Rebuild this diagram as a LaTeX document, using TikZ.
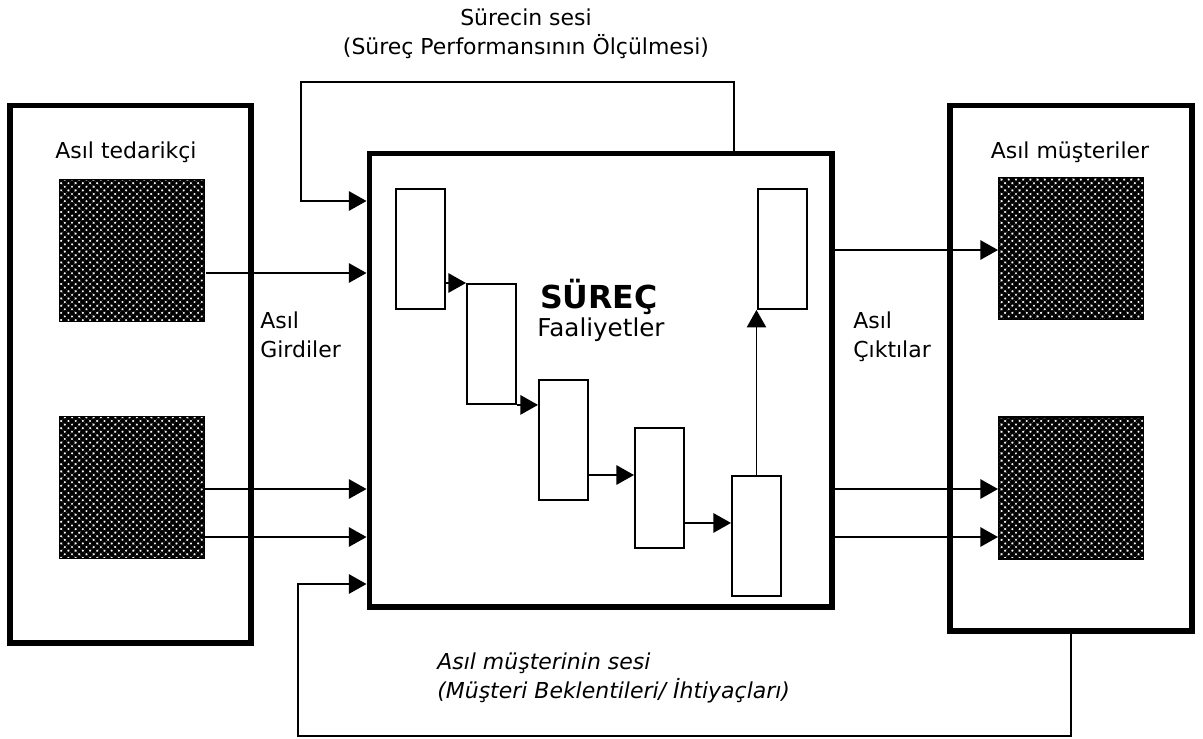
\documentclass[tikz,border=0pt]{standalone}
\usepackage{fontspec}
\setmainfont{DejaVu Sans}
\usetikzlibrary{arrows.meta, positioning, patterns.meta}
\tikzset{
  bigbox/.style={rectangle, draw, line width=2.9pt, inner sep=0pt},
  actbox/.style={rectangle, draw, line width=1.1pt, inner sep=0pt,
                 minimum width=0.98cm, minimum height=2.4cm},
  hatchbox/.style={rectangle, draw, line width=0.6pt, inner sep=0pt,
                   minimum width=2.9cm, minimum height=2.84cm,
                   pattern={Hatch[angle=45, distance=2.9pt, line width=1.8pt]}},
  arrow/.style={-{Triangle[length=10pt, width=11pt]}, line width=1pt},
  lbl/.style={font=\fontsize{12.5}{16.5}\selectfont, inner sep=0pt},
}

\begin{document}
\begin{tikzpicture}[x=0.02cm, y=-0.02cm]
  \useasboundingbox (0,0) rectangle (1203,738);

  % Supplier side
  \node[bigbox, minimum width=4.82cm, minimum height=10.76cm] (sup) at (130.5,374) {};
  \node[lbl] (suptitle) at (126,152) {Asıl tedarikçi};
  \node[hatchbox] (s1) at (132,250.5) {};
  \node[hatchbox] (s2) at (132,487.5) {};

  % Process box
  \node[bigbox, minimum width=9.26cm, minimum height=9.08cm] (proc) at (600.5,380) {};
  \node[font=\bfseries\fontsize{18}{20}\selectfont, inner sep=0pt] (ptitle) at (599,297) {SÜREÇ};
  \node[font=\fontsize{14}{16}\selectfont, inner sep=0pt, anchor=base] (pact) at (601,336) {Faaliyetler};

  % Activities
  \node[actbox, anchor=north west] (a1) at (395,188) {};
  \node[actbox, anchor=north west] (a2) at (466,283) {};
  \node[actbox, anchor=north west] (a3) at (538,379) {};
  \node[actbox, anchor=north west] (a4) at (634,427) {};
  \node[actbox, anchor=north west] (a5) at (731,475) {};
  \node[actbox, anchor=north west] (a6) at (757,188) {};

  \draw[arrow] (a1.east |- a2.north) -- (a2.north west);
  \draw[arrow] (a2.south east) -- (a3.west |- a2.south);
  \draw[arrow] (a3.east |- a5.north) -- (a4.west |- a5.north);
  \draw[arrow] ([yshift=-0.7cm]a4.east) -- ([yshift=-0.7cm]a4.east -| a5.west);
  \draw[arrow] (a5.north) -- (a5.north |- a6.south);

  % Customer side
  \node[bigbox, minimum width=4.84cm, minimum height=10.52cm] (cus) at (1071,368) {};
  \node[lbl] (custitle) at (1070,152) {Asıl müşteriler};
  \node[hatchbox] (c1) at (1071,248.5) {};
  \node[hatchbox] (c2) at (1071,488) {};

  % Inputs
  \coordinate (in1) at (s1.east |- 0,273);
  \coordinate (in2) at (s2.east |- 0,489);
  \coordinate (in3) at (s2.east |- 0,537);
  \draw[arrow] (in1) -- (in1 -| proc.west);
  \draw[arrow] (in2) -- (in2 -| proc.west);
  \draw[arrow] (in3) -- (in3 -| proc.west);
  \node[lbl, align=left, anchor=north west] (inlbl) at (260,311) {Asıl\\Girdiler};

  % Outputs
  \coordinate (out1) at (proc.east |- 0,250);
  \coordinate (out2) at (proc.east |- 0,489);
  \coordinate (out3) at (proc.east |- 0,537);
  \draw[arrow] (out1) -- (out1 -| c1.west);
  \draw[arrow] (out2) -- (out2 -| c2.west);
  \draw[arrow] (out3) -- (out3 -| c2.west);
  \node[lbl, align=left, anchor=north west] (outlbl) at (853,311) {Asıl\\Çıktılar};

  % Voice of the process
  \coordinate (vp) at (734,82);
  \coordinate (vpin) at (301,201);
  \draw[arrow] (proc.north -| vp) -- (vp) -| (vpin) -- (vpin -| proc.west);
  \node[lbl, align=center] (vptext) at (526,34) {Sürecin sesi\\(Süreç Performansının Ölçülmesi)};

  % Voice of the customer
  \coordinate (vc) at (298,736);
  \coordinate (vcin) at (298,584);
  \draw[arrow] (cus.south) -- (cus.south |- vc) -- (vc) -- (vcin) -- (vcin -| proc.west);
  \node[font=\fontsize{12.5}{16.5}\selectfont\itshape, inner sep=0pt, align=left, anchor=north west]
    (vctext) at (437,652) {Asıl müşterinin sesi\\(Müşteri Beklentileri/ İhtiyaçları)};
\end{tikzpicture}
\end{document}
